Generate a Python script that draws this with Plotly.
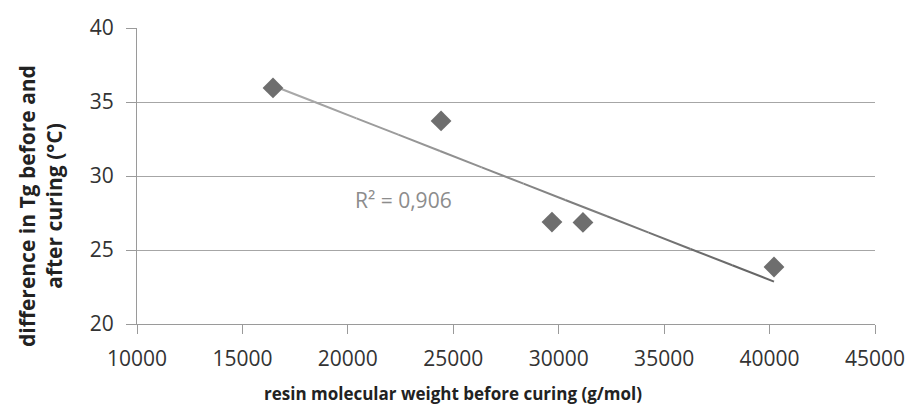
import numpy as np
import plotly.graph_objects as go

mw = [16450, 24420, 29680, 31150, 40210]
dtg = [35.95, 33.72, 26.89, 26.86, 23.85]
r2_label = "R² = 0,906"
x_ticks = [10000, 15000, 20000, 25000, 30000, 35000, 40000, 45000]
y_ticks = [20, 25, 30, 35, 40]
x_title = "resin molecular weight before curing (g/mol)"
y_title = "difference in Tg before and<br>after curing (°C)"

slope, intercept = np.polyfit(mw, dtg, 1)

FONT = "'Open Sans', sans-serif"
L, R, T, B, W, H = 137, 41, 28, 86, 916, 410
PW, PH = W - L - R, H - T - B

fig = go.Figure()

# trendline drawn in segments, light grey on the left to darker grey on the right
nseg = 12
xs = np.linspace(min(mw), max(mw), nseg + 1)
c0, c1 = np.array([0xa8, 0xa8, 0xa8]), np.array([0x66, 0x66, 0x66])
for i in range(nseg):
    t = i / (nseg - 1)
    c = (c0 + (c1 - c0) * t).astype(int)
    seg_x = [xs[i], xs[i + 1]]
    seg_y = [slope * v + intercept for v in seg_x]
    fig.add_trace(go.Scatter(x=seg_x, y=seg_y, mode="lines",
                             line=dict(color=f"rgb({c[0]},{c[1]},{c[2]})", width=2),
                             hoverinfo="skip"))

fig.add_trace(go.Scatter(x=mw, y=dtg, mode="markers",
                         marker=dict(symbol="diamond", size=16, color="#6e6e6e")))

fig.add_annotation(x=22640, y=28.35, text=r2_label, showarrow=False,
                   font=dict(size=21, color="#8c8c8c", family=FONT))

fig.add_annotation(xref="paper", yref="paper",
                   x=(453 - L) / PW, y=(H - B - 393) / PH,
                   xanchor="center", yanchor="middle", showarrow=False,
                   text=f"<b>{x_title}</b>",
                   font=dict(family=FONT, size=17, color="#222222"))
fig.add_annotation(xref="paper", yref="paper",
                   x=(40 - L) / PW, y=(H - B - 206) / PH,
                   xanchor="center", yanchor="middle", showarrow=False,
                   textangle=-90, text=f"<b>{y_title}</b>",
                   font=dict(family=FONT, size=21, color="#222222"))

fig.update_layout(
    width=W, height=H,
    margin=dict(l=L, r=R, t=T, b=B),
    paper_bgcolor="white", plot_bgcolor="white",
    showlegend=False,
    font=dict(family=FONT, color="#333333", size=20),
    xaxis=dict(range=[10000, 45000], tickvals=x_ticks, showgrid=False,
               tickformat="d",
               tickfont=dict(family=FONT, size=21, color="#333333"),
               showline=True, linecolor="#9a9a9a", linewidth=1,
               ticks="outside", ticklen=9, tickcolor="#9a9a9a",
               ticklabelstandoff=7, zeroline=False),
    yaxis=dict(range=[20, 40], tickvals=y_ticks, showgrid=True,
               gridcolor="#a6a6a6", gridwidth=1,
               tickfont=dict(family=FONT, size=21, color="#333333"),
               showline=True, linecolor="#9a9a9a", linewidth=1,
               ticks="outside", ticklen=10, tickcolor="#9a9a9a",
               ticklabelstandoff=8, zeroline=False),
)

fig.write_html("out.html", config={"displayModeBar": False},
               post_script="document.body.style.margin='0';")
